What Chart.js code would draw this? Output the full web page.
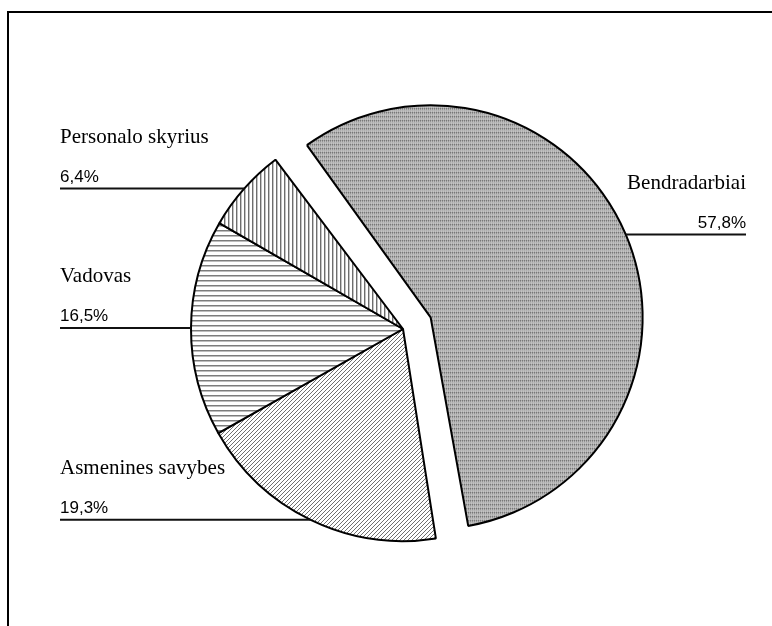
<!DOCTYPE html>
<html>
<head>
<meta charset="utf-8">
<script src="https://cdn.jsdelivr.net/npm/chart.js@4"></script>
<style>
  body { margin: 0; background: #fff; }
  #wrap { width: 772px; height: 626px; }
</style>
</head>
<body>
<div id="wrap"><canvas id="pie" width="772" height="626"></canvas></div>
<script>
var labels = ['Bendradarbiai', 'Asmenines savybes', 'Vadovas', 'Personalo skyrius'];
var values = [57.8, 19.3, 16.5, 6.4];
var explode = [120, 0, 0, 0];

// small tiles used as fill patterns
function makePattern(w, h, paint) {
    var c = document.createElement('canvas');
    c.width = w;
    c.height = h;
    var g = c.getContext('2d');
    g.fillStyle = '#fff';
    g.fillRect(0, 0, w, h);
    paint(g);
    return g.createPattern(c, 'repeat');
}

var dots = makePattern(4, 4, function(g) {
    g.fillStyle = '#7a7a7a';
    g.fillRect(0, 0, 1, 4);
    g.fillRect(2, 0, 1, 4);
    g.fillStyle = '#b4b4b4';
    g.fillRect(0, 2, 4, 1);
    g.fillStyle = '#000';
    g.fillRect(0, 0, 1, 1);
    g.fillRect(2, 0, 1, 1);
});
var diag = makePattern(4, 4, function(g) {
    g.fillStyle = '#707070';
    g.fillRect(3, 0, 1, 1);
    g.fillRect(2, 1, 1, 1);
    g.fillRect(1, 2, 1, 1);
    g.fillRect(0, 3, 1, 1);
});
var horiz = makePattern(1, 5, function(g) {
    g.fillStyle = '#7c7c7c';
    g.fillRect(0, 0, 1, 1);
    g.fillStyle = '#bdbdbd';
    g.fillRect(0, 1, 1, 1);
});
var vert = makePattern(4, 1, function(g) {
    g.fillStyle = '#6e6e6e';
    g.fillRect(0, 0, 1, 1);
    g.fillStyle = '#c4c4c4';
    g.fillRect(1, 0, 1, 1);
});

// frame round the chart (only top and left edges fall inside the page)
var framePlugin = {
    id: 'frame',
    beforeDraw: function(chart) {
        var ctx = chart.ctx;
        ctx.save();
        ctx.strokeStyle = '#000';
        ctx.lineWidth = 2;
        ctx.beginPath();
        ctx.moveTo(8, 700);
        ctx.lineTo(8, 12);
        ctx.lineTo(800, 12);
        ctx.stroke();
        ctx.restore();
    }
};

// the offset also grows the arc radius, so pull it back for exploded slices
var explodePlugin = {
    id: 'explodeKeepRadius',
    afterDatasetUpdate: function(chart, args) {
        var meta = args.meta;
        var base = meta.controller.outerRadius;
        meta.data.forEach(function(arc) {
            var off = (arc.options.offset || 0) / 4;
            var fix = 1 - Math.sin(Math.min(Math.PI, arc.circumference || 0));
            arc.outerRadius = base - off * fix;
        });
    }
};

// names, percents and leader lines next to each slice
var labelPlugin = {
    id: 'sliceLabels',
    afterDatasetsDraw: function(chart) {
        var ctx = chart.ctx;
        var meta = chart.getDatasetMeta(0);
        ctx.save();
        meta.data.forEach(function(arc, i) {
            var mid = (arc.startAngle + arc.endAngle) / 2;
            var off = (arc.options.offset || 0) / 4;
            var fix = 1 - Math.sin(Math.min(Math.PI, arc.circumference || 0));
            var r = arc.outerRadius + off * fix + off;
            var ex = arc.x + Math.cos(mid) * r;
            var ey = arc.y + Math.sin(mid) * r;
            var right = Math.cos(mid) >= 0;
            var x0 = right ? 746 : 60;
            var pct = values[i].toFixed(1).replace('.', ',') + '%';

            ctx.strokeStyle = '#111';
            ctx.lineWidth = 2;
            ctx.beginPath();
            ctx.moveTo(x0, ey);
            ctx.lineTo(ex, ey);
            ctx.stroke();

            ctx.fillStyle = '#000';
            ctx.textAlign = right ? 'right' : 'left';
            ctx.textBaseline = 'alphabetic';
            ctx.font = '17px "Liberation Sans", Arial, sans-serif';
            ctx.fillText(pct, x0, ey - 7);
            ctx.font = '21px "Liberation Serif", "Times New Roman", serif';
            ctx.fillText(labels[i], x0, ey - 46);
        });
        ctx.restore();
    }
};

var ctx = document.getElementById('pie').getContext('2d');
var chart = new Chart(ctx, {
    type: 'pie',
    data: {
        labels: labels,
        datasets: [{
            data: values,
            backgroundColor: [dots, diag, horiz, vert],
            borderColor: '#000',
            borderWidth: 2,
            offset: explode
        }]
    },
    options: {
        responsive: false,
        animation: false,
        rotation: -37,
        radius: 212,
        layout: { padding: { left: 34, right: 0, top: 32, bottom: 0 } },
        plugins: {
            legend: { display: false },
            tooltip: { enabled: false }
        },
        events: []
    },
    plugins: [framePlugin, explodePlugin, labelPlugin]
});
</script>
</body>
</html>
